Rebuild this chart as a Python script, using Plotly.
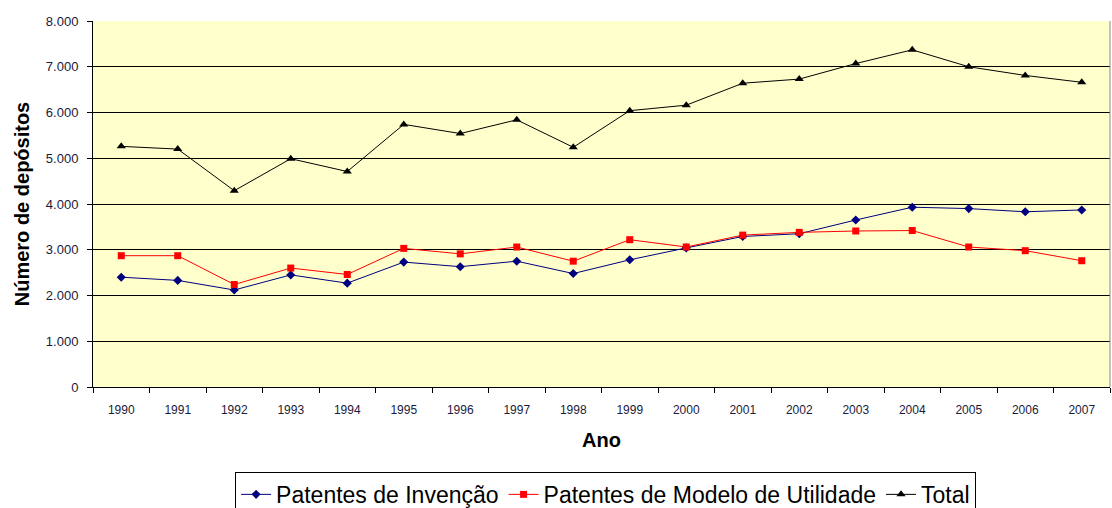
import plotly.graph_objects as go

anos = [str(a) for a in range(1990, 2008)]
invencao = [2400, 2330, 2120, 2450, 2270, 2730, 2630, 2750, 2480, 2780, 3040, 3290, 3350, 3650, 3930, 3900, 3830, 3870]
modelo = [2870, 2870, 2240, 2600, 2460, 3030, 2910, 3060, 2750, 3220, 3060, 3320, 3380, 3410, 3420, 3060, 2980, 2760]
total = [5260, 5200, 4290, 4990, 4710, 5740, 5540, 5840, 5240, 6040, 6160, 6640, 6730, 7070, 7370, 7000, 6810, 6660]
y_ticks = [0, 1000, 2000, 3000, 4000, 5000, 6000, 7000, 8000]

fig = go.Figure()
fig.add_trace(go.Scatter(x=anos, y=invencao, name="Patentes de Invenção", mode="lines+markers",
                         line=dict(color="#000080", width=1),
                         marker=dict(symbol="diamond", size=7, color="#000080")))
fig.add_trace(go.Scatter(x=anos, y=modelo, name="Patentes de Modelo de Utilidade", mode="lines+markers",
                         line=dict(color="#FF0000", width=1),
                         marker=dict(symbol="square", size=7, color="#FF0000")))
fig.add_trace(go.Scatter(x=anos, y=total, name="Total", mode="lines+markers",
                         line=dict(color="#000000", width=1),
                         marker=dict(symbol="triangle-up", size=8, color="#000000")))

fig.update_layout(
    width=1112, height=508,
    margin=dict(l=93, r=2, t=21, b=121, autoexpand=False),
    paper_bgcolor="white",
    plot_bgcolor="#FFFFCC",
    separators=",.",
    font=dict(family="Liberation Sans, Arial, sans-serif", color="#000000"),
    showlegend=True,
    legend=dict(orientation="h", x=0.504, xanchor="center", y=-0.232, yanchor="top",
                bordercolor="#000000", borderwidth=1, bgcolor="white",
                font=dict(family="Liberation Sans, Arial, sans-serif", size=23),
                itemwidth=30, tracegroupgap=0),
    xaxis=dict(type="category", range=[-0.5, 17.5], tickson="boundaries", automargin=False,
               ticks="outside", ticklen=5, tickcolor="#000000", ticklabelstandoff=12,
               showline=True, linecolor="#000000", linewidth=1, mirror=False,
               showgrid=False, tickfont=dict(size=12, color="#1a1a3a"),
               title=dict(text="<b>Ano</b>", font=dict(size=20), standoff=16)),
    yaxis=dict(range=[0, 8000], tickvals=y_ticks, tickformat=",d", automargin=False,
               ticks="outside", ticklen=5, tickcolor="#000000", ticklabelstandoff=6,
               showline=True, linecolor="#000000", linewidth=1,
               showgrid=True, gridcolor="#000000", gridwidth=1,
               zeroline=False, tickfont=dict(size=13, color="#1a1a3a"),
               title=dict(text="<b>Número de depósitos</b>", font=dict(size=20), standoff=10)),
)
fig.add_shape(type="line", xref="paper", yref="paper", x0=1, x1=1, y0=0, y1=1,
              line=dict(color="#888888", width=1))

fig.write_html("out.html", config={"displayModeBar": False},
               post_script="document.body.style.margin='0';document.body.style.overflow='hidden';")
